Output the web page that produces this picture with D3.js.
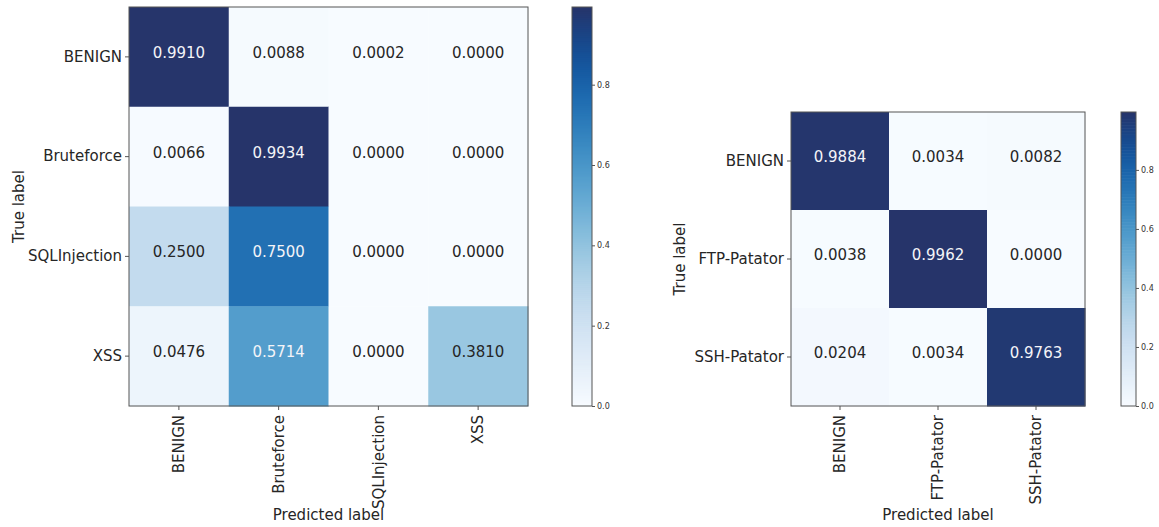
<!DOCTYPE html>
<html>
<head>
<meta charset="utf-8">
<script src="https://cdn.jsdelivr.net/npm/d3@7"></script>
<style>
  html, body { margin: 0; padding: 0; background: #fff; }
  svg { display: block; font-family: "DejaVu Sans", sans-serif; }
</style>
</head>
<body>
<svg id="chart" width="1159" height="527"></svg>
<script>
// ---- data ----
const labelsWeb = ["BENIGN", "Bruteforce", "SQLInjection", "XSS"];
const matrixWeb = [
  [0.9910, 0.0088, 0.0002, 0.0000],
  [0.0066, 0.9934, 0.0000, 0.0000],
  [0.2500, 0.7500, 0.0000, 0.0000],
  [0.0476, 0.5714, 0.0000, 0.3810]
];
const labelsPatator = ["BENIGN", "FTP-Patator", "SSH-Patator"];
const matrixPatator = [
  [0.9884, 0.0034, 0.0082],
  [0.0038, 0.9962, 0.0000],
  [0.0204, 0.0034, 0.9763]
];
const colorbarTicks = [0.0, 0.2, 0.4, 0.6, 0.8];
const xAxisTitle = "Predicted label";
const yAxisTitle = "True label";

// Blues-like colormap
const bluesStops = ["#f7fbff", "#deebf7", "#c6dbef", "#9ecae1", "#6baed6", "#4292c6", "#2171b5", "#0f519c", "#26346a"];
const blues = d3.interpolateRgbBasis(bluesStops);

const svg = d3.select("#chart");
const textColor = "#262626";
const spineColor = "#555";

function drawCM(labels, matrix, L) {
  const vmax = d3.max(matrix.flat());
  const color = d3.scaleSequential(blues).domain([0, vmax]);
  const x = d3.scaleBand().domain(labels).range([L.x0, L.x1]);
  const y = d3.scaleBand().domain(labels).range([L.y0, L.y1]);

  const cells = [];
  matrix.forEach((row, i) => row.forEach((v, j) => cells.push({ r: labels[i], c: labels[j], v })));

  const g = svg.append("g");
  g.selectAll("rect.cell").data(cells).join("rect")
    .attr("class", "cell")
    .attr("x", d => x(d.c)).attr("y", d => y(d.r))
    .attr("width", x.bandwidth() + 0.5).attr("height", y.bandwidth() + 0.5)
    .attr("fill", d => color(d.v));

  g.selectAll("text.val").data(cells).join("text")
    .attr("class", "val")
    .attr("x", d => x(d.c) + x.bandwidth() / 2)
    .attr("y", d => y(d.r) + y.bandwidth() / 2 - 4)
    .attr("text-anchor", "middle").attr("dominant-baseline", "central")
    .attr("font-size", 15)
    .attr("fill", d => d.v > vmax / 2 ? "#f4f4f8" : textColor)
    .text(d => d.v.toFixed(4));

  // frame
  g.append("rect")
    .attr("x", L.x0).attr("y", L.y0)
    .attr("width", L.x1 - L.x0).attr("height", L.y1 - L.y0)
    .attr("fill", "none").attr("stroke", spineColor).attr("stroke-width", 1);

  // y axis
  const ya = g.append("g").attr("transform", `translate(${L.x0},0)`)
    .call(d3.axisLeft(y).tickSize(4).tickPadding(3));
  ya.select(".domain").remove();
  ya.selectAll(".tick line").attr("stroke", spineColor);
  ya.selectAll(".tick text").attr("font-size", 15).attr("fill", textColor)
    .attr("font-family", "DejaVu Sans");

  // x axis
  const xa = g.append("g").attr("transform", `translate(0,${L.y1})`)
    .call(d3.axisBottom(x).tickSize(4).tickPadding(3));
  xa.select(".domain").remove();
  xa.selectAll(".tick line").attr("stroke", spineColor);
  xa.selectAll(".tick text").attr("font-size", 15).attr("fill", textColor)
    .attr("font-family", "DejaVu Sans")
    .attr("transform", "rotate(-90)")
    .attr("text-anchor", "end")
    .attr("dy", "0.35em")
    .attr("x", -9).attr("y", 0);

  // axis titles
  g.append("text")
    .attr("x", (L.x0 + L.x1) / 2).attr("y", L.xTitleY)
    .attr("text-anchor", "middle").attr("dominant-baseline", "central")
    .attr("font-size", 15).attr("fill", textColor).text(xAxisTitle);
  g.append("text")
    .attr("transform", `translate(${L.yTitleX},${(L.y0 + L.y1) / 2}) rotate(-90)`)
    .attr("text-anchor", "middle").attr("dominant-baseline", "central")
    .attr("font-size", 15).attr("fill", textColor).text(yAxisTitle);

  // colorbar
  const cb = d3.scaleLinear().domain([0, vmax]).range([L.y1, L.y0]);
  const steps = d3.range(0, 200);
  const h = (L.y1 - L.y0) / steps.length;
  g.selectAll("rect.cb").data(steps).join("rect")
    .attr("class", "cb")
    .attr("x", L.cbX).attr("width", L.cbW)
    .attr("y", s => cb(((s + 1) / steps.length) * vmax))
    .attr("height", h + 0.6)
    .attr("fill", s => color(((s + 0.5) / steps.length) * vmax));
  g.append("rect")
    .attr("x", L.cbX).attr("y", L.y0).attr("width", L.cbW).attr("height", L.y1 - L.y0)
    .attr("fill", "none").attr("stroke", spineColor).attr("stroke-width", 1);
  const ca = g.append("g").attr("transform", `translate(${L.cbX + L.cbW},0)`)
    .call(d3.axisRight(cb).tickValues(colorbarTicks).tickFormat(d3.format(".1f")).tickSize(3).tickPadding(2));
  ca.select(".domain").remove();
  ca.selectAll(".tick line").attr("stroke", spineColor);
  ca.selectAll(".tick text").attr("font-size", 8).attr("fill", "#333")
    .attr("font-family", "DejaVu Sans");
}

drawCM(labelsWeb, matrixWeb, {
  x0: 129, x1: 528, y0: 7, y1: 406,
  xTitleY: 515, yTitleX: 19,
  cbX: 572, cbW: 20
});
drawCM(labelsPatator, matrixPatator, {
  x0: 791, x1: 1085, y0: 112, y1: 406,
  xTitleY: 515, yTitleX: 680,
  cbX: 1121, cbW: 15
});
</script>
</body>
</html>
